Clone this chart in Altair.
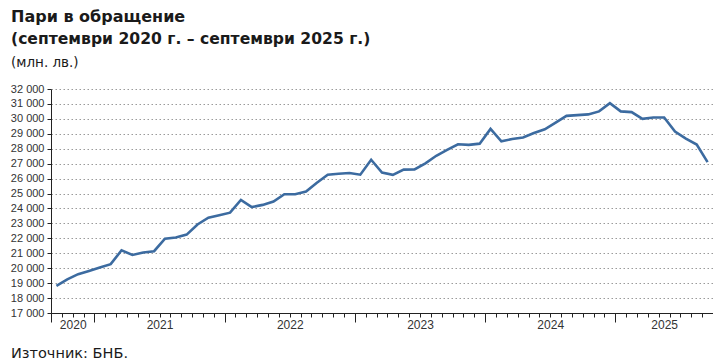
import altair as alt
import pandas as pd

AXFONT = "Liberation Sans"
TFONT = "DejaVu Sans"

months = pd.date_range("2020-09-01", "2025-09-01", freq="MS").strftime("%Y-%m").tolist()
values = [
    18820, 19250, 19600, 19820,                      # 2020 IX-XII
    20050, 20270, 21200, 20890, 21050, 21140, 21980, 22050, 22250, 22930, 23380, 23550,  # 2021
    23720, 24570, 24090, 24240, 24460, 24950, 24950, 25130, 25720, 26260, 26330, 26370,  # 2022
    26260, 27260, 26400, 26250, 26600, 26620, 27020, 27530, 27920, 28300, 28260, 28340,  # 2023
    29330, 28500, 28650, 28750, 29050, 29300, 29750, 30200, 30250, 30300, 30500, 31050,  # 2024
    30500, 30450, 30000, 30090, 30090, 29150, 28680, 28280, 27100,                       # 2025 I-IX
]
years = ["2020", "2021", "2022", "2023", "2024", "2025"]
y_ticks = list(range(17000, 32001, 1000))

title1 = "Пари в обращение"
title2 = "(септември 2020 г. – септември 2025 г.)"
units = "(млн. лв.)"
source = "Източник: БНБ."

n = len(months)
df = pd.DataFrame({"i": list(range(n)), "month": months, "value": values})

# year boundaries / midpoints in index units (band layout)
year_of = [m[:4] for m in months]
bounds = [-0.5]
mids = []
for y in years:
    idx = [k for k, yy in enumerate(year_of) if yy == y]
    mids.append((idx[0] + idx[-1]) / 2)
    bounds.append(idx[-1] + 0.5)
month_bounds = [k - 0.5 for k in range(n + 1)]

AX = "#222222"
LAB = "#333333"

xscale = alt.Scale(domain=[-0.5, n - 0.5], nice=False, zero=False)
yscale = alt.Scale(domain=[17000, 32000], nice=False, zero=False)

base = alt.Chart(df)

line = base.mark_line(color="#3c6ba0", strokeWidth=2.6, strokeJoin="miter").encode(
    x=alt.X("i:Q", scale=xscale,
            axis=alt.Axis(orient="bottom", values=month_bounds, tickSize=4, labels=False,
                          grid=False, title=None, domainColor=AX, tickColor=AX,
                          domainWidth=1, tickWidth=1)),
    y=alt.Y("value:Q", scale=yscale,
            axis=alt.Axis(values=y_ticks,
                          labelExpr="replace(format(datum.value, ','), ',', ' ')",
                          tickSize=4, labelPadding=3, grid=True, gridDash=[1.5, 2.5],
                          gridColor="#9a9a9a", gridWidth=1, title=None, domainColor=AX,
                          tickColor=AX, labelFont=AXFONT, labelFontSize=11, labelColor=LAB)),
)

major = base.mark_point(opacity=0).encode(
    x=alt.X("i:Q", scale=xscale,
            axis=alt.Axis(orient="bottom", values=bounds, tickSize=9, labels=False,
                          domain=False, grid=False, title=None, tickColor=AX, tickWidth=1)),
)

mid_list = ", ".join(str(m) for m in mids)
yr_list = ", ".join("'" + y + "'" for y in years)
year_axis = base.mark_point(opacity=0).encode(
    x=alt.X("i:Q", scale=xscale,
            axis=alt.Axis(orient="bottom", values=mids, ticks=False, domain=False, grid=False,
                          title=None, labelPadding=6, labelFont=AXFONT, labelFontSize=12,
                          labelColor=LAB,
                          labelExpr=f"[{yr_list}][indexof([{mid_list}], datum.value)]")),
)


def txt(t, x, y, size, weight="normal"):
    return alt.Chart(pd.DataFrame({"t": [t]})).mark_text(
        align="left", baseline="alphabetic", font=TFONT, fontSize=size,
        fontWeight=weight, color="#1a1a1a"
    ).encode(x=alt.value(x), y=alt.value(y), text="t:N")


chart = alt.layer(
    line, major, year_axis,
    txt(title1, -40, -67, 16, "bold"),
    txt(title2, -40, -45.5, 15.6, "bold"),
    txt(units, -40, -22, 13.5),
    txt(source, -40, 269, 14.5),
).resolve_axis(x="independent").properties(
    width=662, height=224,
    padding={"left": 43, "top": 81, "right": 0, "bottom": 51},
    autosize=alt.AutoSizeParams(type="none"),
    background="white",
).configure_view(stroke=None)

chart.save("out.html", embed_options={"renderer": "svg", "actions": False})
